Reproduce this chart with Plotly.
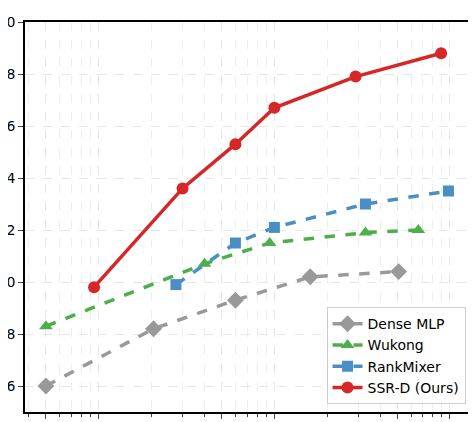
import plotly.graph_objects as go
import numpy as np

dense_x = [5, 20.5, 60, 160, 510]
dense_y = [6.0, 8.2, 9.3, 10.2, 10.4]
wukong_x = [5, 40, 94, 330, 660]
wukong_y = [8.3, 10.7, 11.5, 11.9, 12.0]
rank_x = [27.5, 60, 100, 330, 980]
rank_y = [9.9, 11.5, 12.1, 13.0, 13.5]
ssr_x = [9.4, 30, 60, 100, 290, 890]
ssr_y = [9.8, 13.6, 15.3, 16.7, 17.9, 18.8]
ytick_vals = [6, 8, 10, 12, 14, 16, 18, 20]
ytick_text = ["6", "8", "0", "2", "4", "6", "8", "0"]
xtick_vals = [5, 10, 50, 100, 500, 1000]
xtick_text = ["5", "10", "50", "100", "500", "1000"]

fig = go.Figure()
series = [
    ("Dense MLP", dense_x, dense_y, "#999999", "diamond", "dash", 13),
    ("Wukong", wukong_x, wukong_y, "#4daf4a", "triangle-up", "dash", 12),
    ("RankMixer", rank_x, rank_y, "#4a8fc4", "square", "dash", 11),
    ("SSR-D (Ours)", ssr_x, ssr_y, "#d62728", "circle", "solid", 12),
]
for name, x, y, c, sym, dash, sz in series:
    fig.add_trace(go.Scatter(x=x, y=y, name=name, mode="lines+markers",
                             line=dict(color=c, width=3.5, dash=dash),
                             marker=dict(color=c, symbol=sym, size=sz)))

minor = [v for d in [1, 10, 100, 1000] for v in np.arange(2, 10) * d if 3.8 < v < 1300]
fig.update_layout(
    width=476, height=422, margin=dict(l=17, r=14, t=14, b=18, autoexpand=False),
    plot_bgcolor="white", paper_bgcolor="white",
    font=dict(family="DejaVu Sans", size=14, color="black"),
    legend=dict(x=0.99, y=0.02, xanchor="right", yanchor="bottom",
                bordercolor="#cccccc", borderwidth=1, bgcolor="rgba(255,255,255,0.9)",
                font=dict(size=14)),
    showlegend=True,
)
fig.update_xaxes(type="log", range=[np.log10(3.8), np.log10(1300)], automargin=False,
                 tickvals=xtick_vals, ticktext=xtick_text, ticks="outside",
                 showline=True, linecolor="black", linewidth=1.5, mirror=True,
                 showgrid=True, gridcolor="#e6e6e6", griddash="dash",
                 minor=dict(tickvals=minor, showgrid=True, gridcolor="#eeeeee", griddash="dash",
                            ticks="outside", ticklen=3))
fig.update_yaxes(range=[5, 20], tickvals=ytick_vals, ticktext=ytick_text, ticks="outside",
                 automargin=False,
                 showline=True, linecolor="black", linewidth=1.5, mirror=True,
                 showgrid=True, gridcolor="#e6e6e6", griddash="dash", zeroline=False)
fig.write_html("out.html")
